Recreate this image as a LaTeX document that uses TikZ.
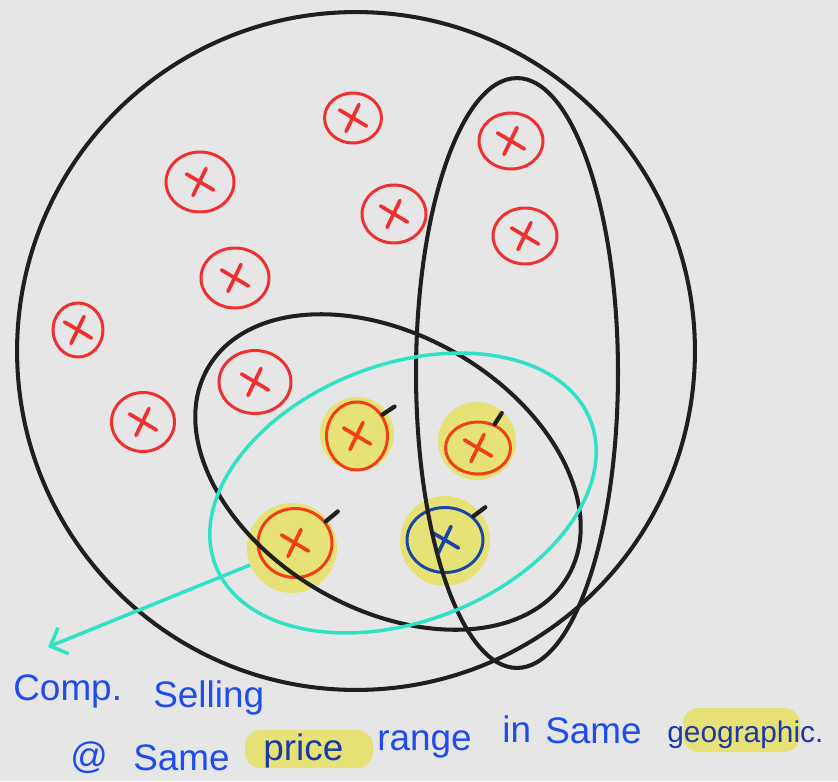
\documentclass[tikz,border=0pt]{standalone}
\usepackage{fontspec}
\setmainfont{Liberation Sans}
\usetikzlibrary{positioning,arrows.meta,shapes.geometric}
\definecolor{paper}{RGB}{230,230,230}
\definecolor{ptred}{RGB}{238,48,48}
\definecolor{ptorange}{RGB}{240,62,22}
\definecolor{ptblue}{RGB}{28,70,165}
\definecolor{hl}{RGB}{230,226,118}
\definecolor{aqua}{RGB}{48,226,196}
\definecolor{ink}{RGB}{32,76,235}
\definecolor{inkdark}{RGB}{30,56,170}
\tikzset{
  seller/.style={ellipse,draw=#1,line width=1.7pt,minimum width=1.28cm,minimum height=1.12cm,inner sep=0pt,
    path picture={\draw[#1,line width=2.1pt,line cap=round]
      ([xshift=-0.27cm,yshift=0.16cm]path picture bounding box.center) -- ([xshift=0.27cm,yshift=-0.16cm]path picture bounding box.center)
      ([xshift=0.12cm,yshift=0.27cm]path picture bounding box.center) -- ([xshift=-0.14cm,yshift=-0.27cm]path picture bounding box.center);}},
  seller/.default=ptred,
  glow/.style={circle,fill=hl,inner sep=0pt},
  setline/.style={line width=2.3pt,black!88},
  cluster/.style={line width=2pt,aqua},
  pointer/.style={line width=2pt,aqua,-{Straight Barb[length=8pt,width=16pt]}},
  checkmark/.style={line width=2.4pt,black!88,line cap=round},
  note/.style={text=ink,font=\fontsize{21}{25}\selectfont,inner sep=0pt,anchor=base west}
}
\begin{document}
\begin{tikzpicture}[x=0.02cm,y=-0.02cm]
  \fill[paper] (0,0) rectangle (838,781);
  \useasboundingbox (0,0) rectangle (838,781);
  \node[glow,minimum size=1.48cm] (h1) at (357,434) {}; \node[glow,minimum size=1.56cm] (h2) at (477,441) {};
  \node[glow,minimum size=1.8cm] (h3) at (292,548) {}; \node[glow,minimum size=1.8cm] (h4) at (445,541) {};
  \node[seller,minimum width=1.14cm,minimum height=1cm] (s1) at (353,118) {};
  \node[seller,minimum width=1.36cm,minimum height=1.2cm] (s2) at (200,182) {};
  \node[seller] (s3) at (511,141) {}; \node[seller,minimum height=1.16cm] (s4) at (394,214) {};
  \node[seller] (s5) at (525,236) {};
  \node[seller,minimum width=1.36cm,minimum height=1.2cm] (s6) at (235,278) {};
  \node[seller,minimum width=1cm,minimum height=1.08cm] (s7) at (78,330) {};
  \node[seller,minimum width=1.44cm,minimum height=1.26cm] (s8) at (255,382) {};
  \node[seller,minimum width=1.26cm,minimum height=1.18cm] (s9) at (143,422) {};
  \node[seller=ptorange,minimum width=1.22cm,minimum height=1.36cm] (m1) at (357,436) {};
  \node[seller=ptorange,minimum width=1.3cm,minimum height=1.04cm] (m2) at (478,448) {};
  \node[seller=ptorange,minimum width=1.48cm,minimum height=1.38cm] (m3) at (295,543) {};
  \node[seller=ptblue,minimum width=1.52cm,minimum height=1.3cm] (m4) at (445,540) {};
  \draw[setline] (356,351) circle [radius=6.78cm];
  \draw[setline] (517,373) ellipse [x radius=2.02cm,y radius=5.9cm];
  \draw[setline,rotate around={-30:(388,472)}] (388,472) ellipse [x radius=4.16cm,y radius=2.74cm];
  \draw[cluster,rotate around={21:(403,493)}] (403,493) ellipse [x radius=4.02cm,y radius=2.57cm];
  \draw[checkmark] (m1.40) -- ++(12,-8); \draw[checkmark] (m2.55) -- ++(7,-11);
  \draw[checkmark] (m3.35) -- ++(12,-10); \draw[checkmark] (m4.40) -- ++(12,-9);
  \coordinate (tip) at (48,647);
  \draw[pointer] (h3) -- (tip);
  \fill[hl,rounded corners=9pt] (245,730) rectangle (373,768);
  \fill[hl,rounded corners=9pt] (683,708) rectangle (800,752);
  \node[note] (comp) at (13,700) {Comp.}; \node[note] (selling) at (153,707) {Selling};
  \node[note] (atsign) at (70,768) {@}; \node[note] (same) at (133,770) {Same};
  \node[note,text=inkdark] (price) at (263,760) {price}; \node[note] (range) at (377,750) {range};
  \node[note] (inword) at (502,742) {in}; \node[note] (sametoo) at (545,743) {Same};
  \node[note,text=inkdark,font=\fontsize{17}{20}\selectfont] (geo) at (667,742) {geographic.};
\end{tikzpicture}
\end{document}
